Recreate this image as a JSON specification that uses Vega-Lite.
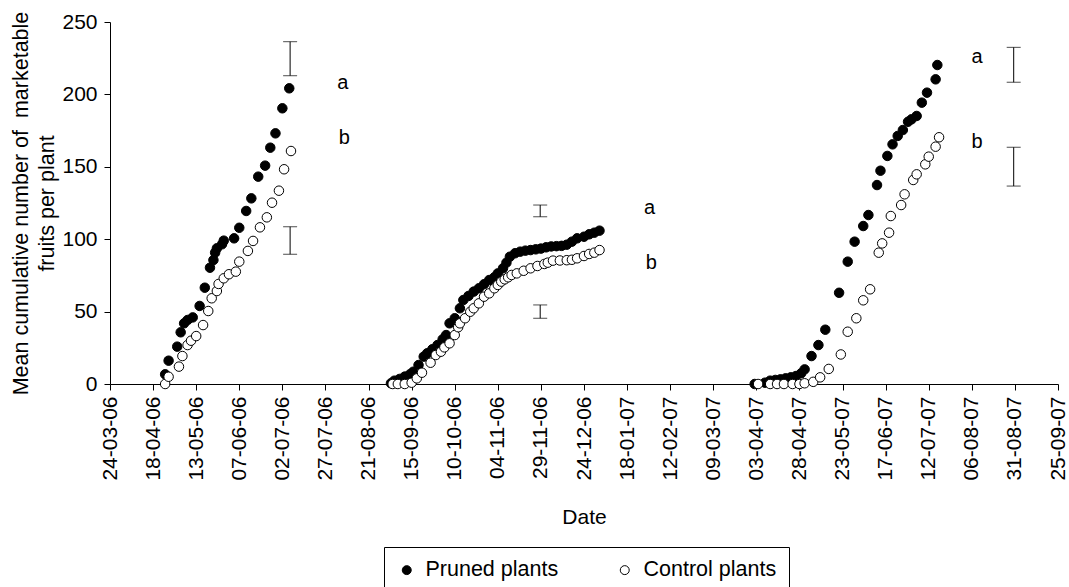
{
  "$schema": "https://vega.github.io/schema/vega-lite/v6.json",
  "autosize": {"type": "none"},
  "padding": {"left": 110, "top": 22, "right": 11, "bottom": 203},
  "width": 948,
  "height": 362,
  "config": {
    "font": "Liberation Sans",
    "view": {"stroke": null},
    "axis": {"grid": false, "domainColor": "black", "tickColor": "black", "labelColor": "black", "titleColor": "black", "labelFontSize": 21, "titleFontSize": 21, "titleFontWeight": "normal", "tickSize": 6}
  },
  "datasets": {
    "points": [
      {"date": "2006-04-25T00:00:00", "fruits": 6.7, "series": "Pruned plants"},
      {"date": "2006-04-27T00:00:00", "fruits": 16.1, "series": "Pruned plants"},
      {"date": "2006-05-02T00:00:00", "fruits": 25.8, "series": "Pruned plants"},
      {"date": "2006-05-04T00:00:00", "fruits": 35.7, "series": "Pruned plants"},
      {"date": "2006-05-06T00:00:00", "fruits": 41.9, "series": "Pruned plants"},
      {"date": "2006-05-08T00:00:00", "fruits": 44.2, "series": "Pruned plants"},
      {"date": "2006-05-11T00:00:00", "fruits": 46.0, "series": "Pruned plants"},
      {"date": "2006-05-15T00:00:00", "fruits": 53.9, "series": "Pruned plants"},
      {"date": "2006-05-18T00:00:00", "fruits": 66.5, "series": "Pruned plants"},
      {"date": "2006-05-21T00:00:00", "fruits": 80.3, "series": "Pruned plants"},
      {"date": "2006-05-23T00:00:00", "fruits": 85.6, "series": "Pruned plants"},
      {"date": "2006-05-24T00:00:00", "fruits": 90.7, "series": "Pruned plants"},
      {"date": "2006-05-25T00:00:00", "fruits": 93.7, "series": "Pruned plants"},
      {"date": "2006-05-28T00:00:00", "fruits": 96.5, "series": "Pruned plants"},
      {"date": "2006-05-29T00:00:00", "fruits": 99.0, "series": "Pruned plants"},
      {"date": "2006-06-04T00:00:00", "fruits": 100.6, "series": "Pruned plants"},
      {"date": "2006-06-07T00:00:00", "fruits": 107.9, "series": "Pruned plants"},
      {"date": "2006-06-11T00:00:00", "fruits": 119.5, "series": "Pruned plants"},
      {"date": "2006-06-14T00:00:00", "fruits": 128.2, "series": "Pruned plants"},
      {"date": "2006-06-18T00:00:00", "fruits": 143.2, "series": "Pruned plants"},
      {"date": "2006-06-22T00:00:00", "fruits": 150.8, "series": "Pruned plants"},
      {"date": "2006-06-25T00:00:00", "fruits": 163.2, "series": "Pruned plants"},
      {"date": "2006-06-28T00:00:00", "fruits": 173.1, "series": "Pruned plants"},
      {"date": "2006-07-02T00:00:00", "fruits": 190.4, "series": "Pruned plants"},
      {"date": "2006-07-06T00:00:00", "fruits": 204.2, "series": "Pruned plants"},
      {"date": "2006-09-03T00:00:00", "fruits": 0.5, "series": "Pruned plants"},
      {"date": "2006-09-05T00:00:00", "fruits": 2.3, "series": "Pruned plants"},
      {"date": "2006-09-08T00:00:00", "fruits": 3.5, "series": "Pruned plants"},
      {"date": "2006-09-11T00:00:00", "fruits": 5.1, "series": "Pruned plants"},
      {"date": "2006-09-14T00:00:00", "fruits": 6.7, "series": "Pruned plants"},
      {"date": "2006-09-16T00:00:00", "fruits": 8.5, "series": "Pruned plants"},
      {"date": "2006-09-19T00:00:00", "fruits": 13.1, "series": "Pruned plants"},
      {"date": "2006-09-22T00:00:00", "fruits": 18.9, "series": "Pruned plants"},
      {"date": "2006-09-24T00:00:00", "fruits": 21.2, "series": "Pruned plants"},
      {"date": "2006-09-27T00:00:00", "fruits": 24.0, "series": "Pruned plants"},
      {"date": "2006-09-30T00:00:00", "fruits": 26.9, "series": "Pruned plants"},
      {"date": "2006-10-03T00:00:00", "fruits": 30.9, "series": "Pruned plants"},
      {"date": "2006-10-05T00:00:00", "fruits": 33.8, "series": "Pruned plants"},
      {"date": "2006-10-07T00:00:00", "fruits": 41.9, "series": "Pruned plants"},
      {"date": "2006-10-10T00:00:00", "fruits": 45.4, "series": "Pruned plants"},
      {"date": "2006-10-13T00:00:00", "fruits": 52.3, "series": "Pruned plants"},
      {"date": "2006-10-15T00:00:00", "fruits": 58.0, "series": "Pruned plants"},
      {"date": "2006-10-18T00:00:00", "fruits": 60.8, "series": "Pruned plants"},
      {"date": "2006-10-21T00:00:00", "fruits": 63.8, "series": "Pruned plants"},
      {"date": "2006-10-24T00:00:00", "fruits": 66.1, "series": "Pruned plants"},
      {"date": "2006-10-27T00:00:00", "fruits": 68.9, "series": "Pruned plants"},
      {"date": "2006-10-30T00:00:00", "fruits": 71.8, "series": "Pruned plants"},
      {"date": "2006-11-02T00:00:00", "fruits": 73.7, "series": "Pruned plants"},
      {"date": "2006-11-04T00:00:00", "fruits": 76.4, "series": "Pruned plants"},
      {"date": "2006-11-07T00:00:00", "fruits": 79.9, "series": "Pruned plants"},
      {"date": "2006-11-09T00:00:00", "fruits": 83.8, "series": "Pruned plants"},
      {"date": "2006-11-11T00:00:00", "fruits": 87.9, "series": "Pruned plants"},
      {"date": "2006-11-14T00:00:00", "fruits": 90.3, "series": "Pruned plants"},
      {"date": "2006-11-17T00:00:00", "fruits": 91.4, "series": "Pruned plants"},
      {"date": "2006-11-20T00:00:00", "fruits": 92.1, "series": "Pruned plants"},
      {"date": "2006-11-23T00:00:00", "fruits": 92.5, "series": "Pruned plants"},
      {"date": "2006-11-26T00:00:00", "fruits": 93.0, "series": "Pruned plants"},
      {"date": "2006-11-29T00:00:00", "fruits": 93.5, "series": "Pruned plants"},
      {"date": "2006-12-02T00:00:00", "fruits": 94.4, "series": "Pruned plants"},
      {"date": "2006-12-05T00:00:00", "fruits": 95.0, "series": "Pruned plants"},
      {"date": "2006-12-08T00:00:00", "fruits": 95.2, "series": "Pruned plants"},
      {"date": "2006-12-11T00:00:00", "fruits": 95.4, "series": "Pruned plants"},
      {"date": "2006-12-14T00:00:00", "fruits": 96.2, "series": "Pruned plants"},
      {"date": "2006-12-17T00:00:00", "fruits": 98.3, "series": "Pruned plants"},
      {"date": "2006-12-20T00:00:00", "fruits": 100.6, "series": "Pruned plants"},
      {"date": "2006-12-24T00:00:00", "fruits": 101.7, "series": "Pruned plants"},
      {"date": "2006-12-27T00:00:00", "fruits": 103.4, "series": "Pruned plants"},
      {"date": "2006-12-30T00:00:00", "fruits": 104.5, "series": "Pruned plants"},
      {"date": "2007-01-02T00:00:00", "fruits": 105.9, "series": "Pruned plants"},
      {"date": "2007-04-02T00:00:00", "fruits": 0, "series": "Pruned plants"},
      {"date": "2007-04-08T00:00:00", "fruits": 0.9, "series": "Pruned plants"},
      {"date": "2007-04-11T00:00:00", "fruits": 2.3, "series": "Pruned plants"},
      {"date": "2007-04-14T00:00:00", "fruits": 2.8, "series": "Pruned plants"},
      {"date": "2007-04-17T00:00:00", "fruits": 3.2, "series": "Pruned plants"},
      {"date": "2007-04-20T00:00:00", "fruits": 3.9, "series": "Pruned plants"},
      {"date": "2007-04-23T00:00:00", "fruits": 4.6, "series": "Pruned plants"},
      {"date": "2007-04-26T00:00:00", "fruits": 5.5, "series": "Pruned plants"},
      {"date": "2007-04-29T00:00:00", "fruits": 7.4, "series": "Pruned plants"},
      {"date": "2007-05-01T00:00:00", "fruits": 10.1, "series": "Pruned plants"},
      {"date": "2007-05-05T00:00:00", "fruits": 19.3, "series": "Pruned plants"},
      {"date": "2007-05-09T00:00:00", "fruits": 26.9, "series": "Pruned plants"},
      {"date": "2007-05-13T00:00:00", "fruits": 37.5, "series": "Pruned plants"},
      {"date": "2007-05-21T00:00:00", "fruits": 63.0, "series": "Pruned plants"},
      {"date": "2007-05-26T00:00:00", "fruits": 84.5, "series": "Pruned plants"},
      {"date": "2007-05-30T00:00:00", "fruits": 98.3, "series": "Pruned plants"},
      {"date": "2007-06-04T00:00:00", "fruits": 109.1, "series": "Pruned plants"},
      {"date": "2007-06-07T00:00:00", "fruits": 116.7, "series": "Pruned plants"},
      {"date": "2007-06-12T00:00:00", "fruits": 137.4, "series": "Pruned plants"},
      {"date": "2007-06-14T00:00:00", "fruits": 147.3, "series": "Pruned plants"},
      {"date": "2007-06-18T00:00:00", "fruits": 157.5, "series": "Pruned plants"},
      {"date": "2007-06-21T00:00:00", "fruits": 165.5, "series": "Pruned plants"},
      {"date": "2007-06-24T00:00:00", "fruits": 171.3, "series": "Pruned plants"},
      {"date": "2007-06-27T00:00:00", "fruits": 175.4, "series": "Pruned plants"},
      {"date": "2007-06-30T00:00:00", "fruits": 181.1, "series": "Pruned plants"},
      {"date": "2007-07-02T00:00:00", "fruits": 182.8, "series": "Pruned plants"},
      {"date": "2007-07-05T00:00:00", "fruits": 185.1, "series": "Pruned plants"},
      {"date": "2007-07-08T00:00:00", "fruits": 194.3, "series": "Pruned plants"},
      {"date": "2007-07-11T00:00:00", "fruits": 201.2, "series": "Pruned plants"},
      {"date": "2007-07-16T00:00:00", "fruits": 210.4, "series": "Pruned plants"},
      {"date": "2007-07-17T00:00:00", "fruits": 220.3, "series": "Pruned plants"},
      {"date": "2006-04-25T00:00:00", "fruits": 0, "series": "Control plants"},
      {"date": "2006-04-27T00:00:00", "fruits": 5.0, "series": "Control plants"},
      {"date": "2006-05-03T00:00:00", "fruits": 12.0, "series": "Control plants"},
      {"date": "2006-05-05T00:00:00", "fruits": 19.3, "series": "Control plants"},
      {"date": "2006-05-08T00:00:00", "fruits": 26.9, "series": "Control plants"},
      {"date": "2006-05-10T00:00:00", "fruits": 29.9, "series": "Control plants"},
      {"date": "2006-05-13T00:00:00", "fruits": 33.1, "series": "Control plants"},
      {"date": "2006-05-17T00:00:00", "fruits": 40.7, "series": "Control plants"},
      {"date": "2006-05-20T00:00:00", "fruits": 50.4, "series": "Control plants"},
      {"date": "2006-05-22T00:00:00", "fruits": 59.2, "series": "Control plants"},
      {"date": "2006-05-25T00:00:00", "fruits": 64.2, "series": "Control plants"},
      {"date": "2006-05-26T00:00:00", "fruits": 69.1, "series": "Control plants"},
      {"date": "2006-05-29T00:00:00", "fruits": 73.0, "series": "Control plants"},
      {"date": "2006-06-01T00:00:00", "fruits": 75.8, "series": "Control plants"},
      {"date": "2006-06-05T00:00:00", "fruits": 77.6, "series": "Control plants"},
      {"date": "2006-06-07T00:00:00", "fruits": 84.5, "series": "Control plants"},
      {"date": "2006-06-12T00:00:00", "fruits": 91.9, "series": "Control plants"},
      {"date": "2006-06-15T00:00:00", "fruits": 98.8, "series": "Control plants"},
      {"date": "2006-06-19T00:00:00", "fruits": 108.2, "series": "Control plants"},
      {"date": "2006-06-23T00:00:00", "fruits": 115.1, "series": "Control plants"},
      {"date": "2006-06-26T00:00:00", "fruits": 125.2, "series": "Control plants"},
      {"date": "2006-06-30T00:00:00", "fruits": 133.5, "series": "Control plants"},
      {"date": "2006-07-03T00:00:00", "fruits": 148.3, "series": "Control plants"},
      {"date": "2006-07-07T00:00:00", "fruits": 160.9, "series": "Control plants"},
      {"date": "2006-09-04T00:00:00", "fruits": 0, "series": "Control plants"},
      {"date": "2006-09-07T00:00:00", "fruits": 0, "series": "Control plants"},
      {"date": "2006-09-11T00:00:00", "fruits": 0, "series": "Control plants"},
      {"date": "2006-09-15T00:00:00", "fruits": 0.9, "series": "Control plants"},
      {"date": "2006-09-18T00:00:00", "fruits": 3.9, "series": "Control plants"},
      {"date": "2006-09-21T00:00:00", "fruits": 7.8, "series": "Control plants"},
      {"date": "2006-09-26T00:00:00", "fruits": 14.7, "series": "Control plants"},
      {"date": "2006-09-29T00:00:00", "fruits": 20.0, "series": "Control plants"},
      {"date": "2006-10-02T00:00:00", "fruits": 22.3, "series": "Control plants"},
      {"date": "2006-10-04T00:00:00", "fruits": 25.3, "series": "Control plants"},
      {"date": "2006-10-07T00:00:00", "fruits": 28.1, "series": "Control plants"},
      {"date": "2006-10-10T00:00:00", "fruits": 33.8, "series": "Control plants"},
      {"date": "2006-10-12T00:00:00", "fruits": 39.2, "series": "Control plants"},
      {"date": "2006-10-13T00:00:00", "fruits": 41.9, "series": "Control plants"},
      {"date": "2006-10-16T00:00:00", "fruits": 45.4, "series": "Control plants"},
      {"date": "2006-10-19T00:00:00", "fruits": 49.9, "series": "Control plants"},
      {"date": "2006-10-21T00:00:00", "fruits": 52.3, "series": "Control plants"},
      {"date": "2006-10-24T00:00:00", "fruits": 55.7, "series": "Control plants"},
      {"date": "2006-10-27T00:00:00", "fruits": 60.3, "series": "Control plants"},
      {"date": "2006-10-30T00:00:00", "fruits": 62.6, "series": "Control plants"},
      {"date": "2006-11-02T00:00:00", "fruits": 66.1, "series": "Control plants"},
      {"date": "2006-11-04T00:00:00", "fruits": 68.4, "series": "Control plants"},
      {"date": "2006-11-06T00:00:00", "fruits": 70.7, "series": "Control plants"},
      {"date": "2006-11-08T00:00:00", "fruits": 72.3, "series": "Control plants"},
      {"date": "2006-11-10T00:00:00", "fruits": 73.7, "series": "Control plants"},
      {"date": "2006-11-12T00:00:00", "fruits": 75.3, "series": "Control plants"},
      {"date": "2006-11-15T00:00:00", "fruits": 76.4, "series": "Control plants"},
      {"date": "2006-11-19T00:00:00", "fruits": 78.2, "series": "Control plants"},
      {"date": "2006-11-23T00:00:00", "fruits": 79.9, "series": "Control plants"},
      {"date": "2006-11-27T00:00:00", "fruits": 81.5, "series": "Control plants"},
      {"date": "2006-12-01T00:00:00", "fruits": 82.9, "series": "Control plants"},
      {"date": "2006-12-03T00:00:00", "fruits": 83.8, "series": "Control plants"},
      {"date": "2006-12-06T00:00:00", "fruits": 85.2, "series": "Control plants"},
      {"date": "2006-12-10T00:00:00", "fruits": 85.3, "series": "Control plants"},
      {"date": "2006-12-14T00:00:00", "fruits": 85.5, "series": "Control plants"},
      {"date": "2006-12-17T00:00:00", "fruits": 85.8, "series": "Control plants"},
      {"date": "2006-12-20T00:00:00", "fruits": 86.8, "series": "Control plants"},
      {"date": "2006-12-24T00:00:00", "fruits": 88.4, "series": "Control plants"},
      {"date": "2006-12-27T00:00:00", "fruits": 89.8, "series": "Control plants"},
      {"date": "2006-12-30T00:00:00", "fruits": 90.7, "series": "Control plants"},
      {"date": "2007-01-02T00:00:00", "fruits": 92.5, "series": "Control plants"},
      {"date": "2007-04-04T00:00:00", "fruits": 0, "series": "Control plants"},
      {"date": "2007-04-11T00:00:00", "fruits": 0, "series": "Control plants"},
      {"date": "2007-04-15T00:00:00", "fruits": 0, "series": "Control plants"},
      {"date": "2007-04-19T00:00:00", "fruits": 0, "series": "Control plants"},
      {"date": "2007-04-24T00:00:00", "fruits": 0, "series": "Control plants"},
      {"date": "2007-04-28T00:00:00", "fruits": 0, "series": "Control plants"},
      {"date": "2007-05-01T00:00:00", "fruits": 0.5, "series": "Control plants"},
      {"date": "2007-05-06T00:00:00", "fruits": 1.5, "series": "Control plants"},
      {"date": "2007-05-10T00:00:00", "fruits": 4.6, "series": "Control plants"},
      {"date": "2007-05-15T00:00:00", "fruits": 10.4, "series": "Control plants"},
      {"date": "2007-05-22T00:00:00", "fruits": 20.4, "series": "Control plants"},
      {"date": "2007-05-26T00:00:00", "fruits": 36.1, "series": "Control plants"},
      {"date": "2007-05-31T00:00:00", "fruits": 45.4, "series": "Control plants"},
      {"date": "2007-06-04T00:00:00", "fruits": 57.8, "series": "Control plants"},
      {"date": "2007-06-08T00:00:00", "fruits": 65.4, "series": "Control plants"},
      {"date": "2007-06-13T00:00:00", "fruits": 90.7, "series": "Control plants"},
      {"date": "2007-06-15T00:00:00", "fruits": 97.1, "series": "Control plants"},
      {"date": "2007-06-19T00:00:00", "fruits": 104.5, "series": "Control plants"},
      {"date": "2007-06-20T00:00:00", "fruits": 116.0, "series": "Control plants"},
      {"date": "2007-06-26T00:00:00", "fruits": 123.6, "series": "Control plants"},
      {"date": "2007-06-28T00:00:00", "fruits": 131.0, "series": "Control plants"},
      {"date": "2007-07-03T00:00:00", "fruits": 140.9, "series": "Control plants"},
      {"date": "2007-07-05T00:00:00", "fruits": 144.8, "series": "Control plants"},
      {"date": "2007-07-10T00:00:00", "fruits": 151.7, "series": "Control plants"},
      {"date": "2007-07-12T00:00:00", "fruits": 157.0, "series": "Control plants"},
      {"date": "2007-07-16T00:00:00", "fruits": 163.9, "series": "Control plants"},
      {"date": "2007-07-18T00:00:00", "fruits": 170.4, "series": "Control plants"}
    ],
    "errors": [
      {"date": "2006-07-06T12:00:00", "lo": 212.9, "hi": 236.4},
      {"date": "2006-07-06T12:00:00", "lo": 89.6, "hi": 108.6},
      {"date": "2006-11-28T14:00:00", "lo": 115.5, "hi": 123.6},
      {"date": "2006-11-28T14:00:00", "lo": 45.4, "hi": 54.6},
      {"date": "2007-08-30T07:00:00", "lo": 208.4, "hi": 232.5},
      {"date": "2007-08-30T07:00:00", "lo": 136.7, "hi": 163.5}
    ],
    "letters": [
      {"date": "2006-08-06T00:00:00", "fruits": 207.6, "label": "a"},
      {"date": "2006-08-07T00:00:00", "fruits": 169.7, "label": "b"},
      {"date": "2007-01-31T00:00:00", "fruits": 121.3, "label": "a"},
      {"date": "2007-02-01T00:00:00", "fruits": 83.8, "label": "b"},
      {"date": "2007-08-09T00:00:00", "fruits": 226.0, "label": "a"},
      {"date": "2007-08-09T00:00:00", "fruits": 167.3, "label": "b"}
    ]
  },
  "layer": [
    {
      "data": {"name": "points"},
      "mark": {"type": "point", "filled": true, "stroke": "black", "strokeWidth": 1, "size": 90, "opacity": 1, "clip": false},
      "encoding": {
        "x": {
          "field": "date", "type": "temporal",
          "scale": {"domain": [{"year": 2006, "month": 3, "date": 24}, {"year": 2007, "month": 9, "date": 25}], "nice": false},
          "axis": {
            "title": "Date",
            "format": "%d-%m-%y",
            "labelAngle": -90,
            "labelPadding": 6,
            "labelFlush": false,
            "labelOverlap": false,
            "titleY": 139,
            "titleBaseline": "alphabetic",
            "values": [
              {"year": 2006, "month": 3, "date": 24},
              {"year": 2006, "month": 4, "date": 18},
              {"year": 2006, "month": 5, "date": 13},
              {"year": 2006, "month": 6, "date": 7},
              {"year": 2006, "month": 7, "date": 2},
              {"year": 2006, "month": 7, "date": 27},
              {"year": 2006, "month": 8, "date": 21},
              {"year": 2006, "month": 9, "date": 15},
              {"year": 2006, "month": 10, "date": 10},
              {"year": 2006, "month": 11, "date": 4},
              {"year": 2006, "month": 11, "date": 29},
              {"year": 2006, "month": 12, "date": 24},
              {"year": 2007, "month": 1, "date": 18},
              {"year": 2007, "month": 2, "date": 12},
              {"year": 2007, "month": 3, "date": 9},
              {"year": 2007, "month": 4, "date": 3},
              {"year": 2007, "month": 4, "date": 28},
              {"year": 2007, "month": 5, "date": 23},
              {"year": 2007, "month": 6, "date": 17},
              {"year": 2007, "month": 7, "date": 12},
              {"year": 2007, "month": 8, "date": 6},
              {"year": 2007, "month": 8, "date": 31},
              {"year": 2007, "month": 9, "date": 25}
            ]
          }
        },
        "y": {
          "field": "fruits", "type": "quantitative",
          "scale": {"domain": [0, 250], "nice": false},
          "axis": {
            "title": ["Mean cumulative number of \u00a0marketable", "fruits per plant"],
            "values": [0, 50, 100, 150, 200, 250],
            "labelPadding": 7,
            "titleFontSize": 21.5,
            "titleX": -100,
            "titleBaseline": "top",
            "titleLineHeight": 26
          }
        },
        "fill": {
          "field": "series", "type": "nominal",
          "scale": {"domain": ["Pruned plants", "Control plants"], "range": ["black", "white"]},
          "legend": {
            "orient": "none", "legendX": 274, "legendY": 525,
            "direction": "horizontal", "title": null,
            "strokeColor": "black", "padding": 12,
            "labelFontSize": 21.5, "labelColor": "black", "labelOffset": 8,
            "symbolType": "circle", "symbolSize": 80,
            "symbolStrokeColor": "black", "symbolStrokeWidth": 1,
            "columnPadding": 55
          }
        }
      }
    },
    {
      "data": {"name": "errors"},
      "mark": {"type": "rule", "color": "black", "strokeWidth": 1},
      "encoding": {
        "x": {"field": "date", "type": "temporal"},
        "y": {"field": "lo", "type": "quantitative"},
        "y2": {"field": "hi"}
      }
    },
    {
      "data": {"name": "errors"},
      "mark": {"type": "tick", "orient": "horizontal", "color": "black", "size": 14, "thickness": 1},
      "encoding": {
        "x": {"field": "date", "type": "temporal"},
        "y": {"field": "lo", "type": "quantitative"}
      }
    },
    {
      "data": {"name": "errors"},
      "mark": {"type": "tick", "orient": "horizontal", "color": "black", "size": 14, "thickness": 1},
      "encoding": {
        "x": {"field": "date", "type": "temporal"},
        "y": {"field": "hi", "type": "quantitative"}
      }
    },
    {
      "data": {"name": "letters"},
      "mark": {"type": "text", "fontSize": 20, "color": "black", "align": "center", "baseline": "middle"},
      "encoding": {
        "x": {"field": "date", "type": "temporal"},
        "y": {"field": "fruits", "type": "quantitative"},
        "text": {"field": "label"}
      }
    }
  ]
}
